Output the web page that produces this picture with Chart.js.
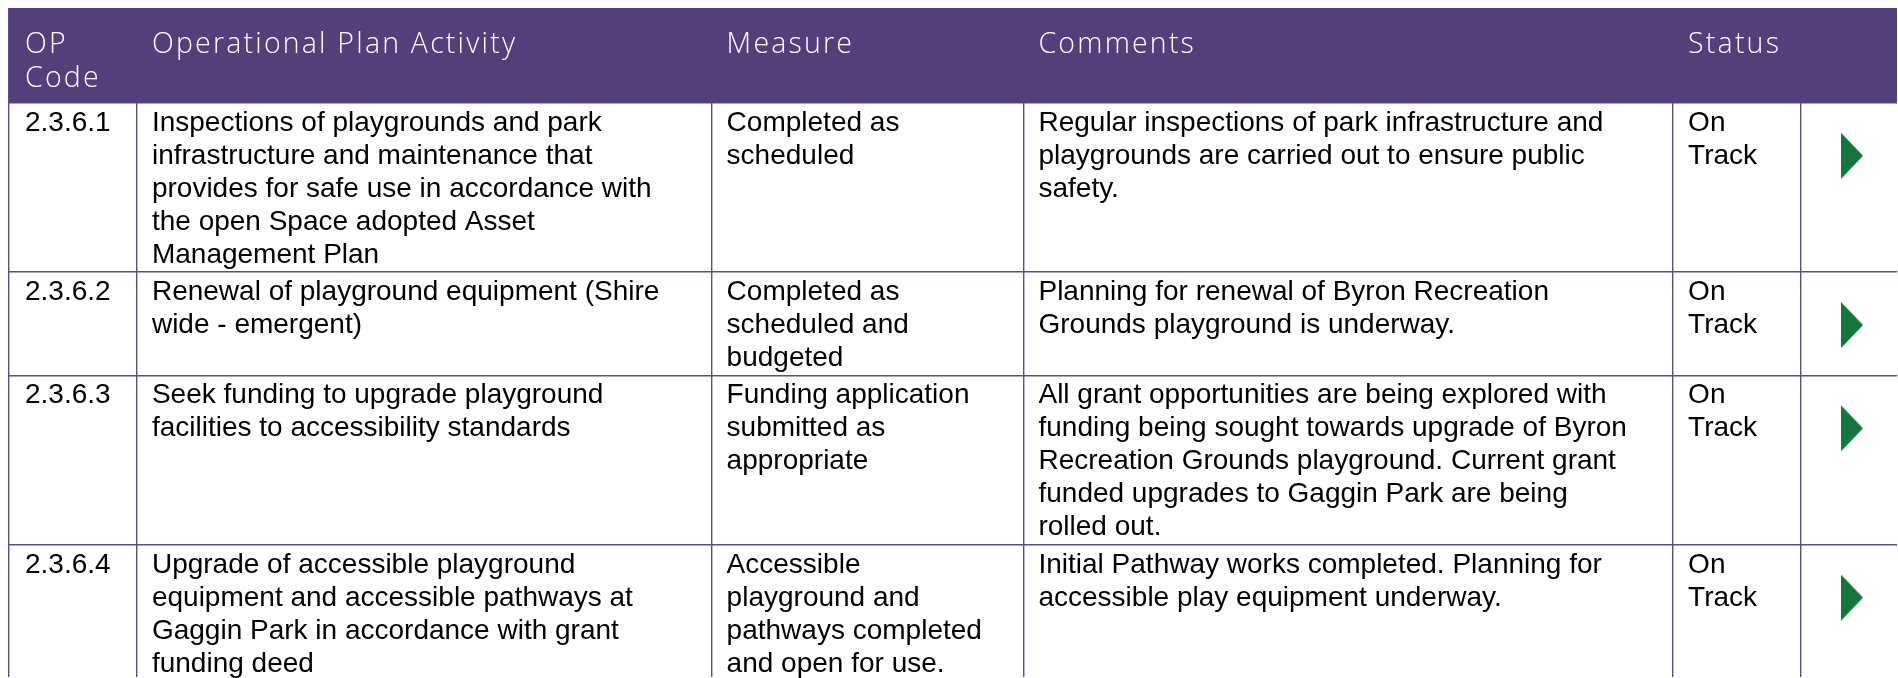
<!DOCTYPE html>
<html>
<head>
<meta charset="utf-8">
<title>Operational Plan - Playgrounds</title>
<script src="https://cdn.jsdelivr.net/npm/chart.js@4.4.1/dist/chart.umd.min.js"></script>
<style>
  html, body { margin: 0; padding: 0; background: #fff; }
  #wrap { position: relative; width: 1898px; height: 678px; }
</style>
</head>
<body>
<div id="wrap"><canvas id="op-table"></canvas></div>
<script>
// Table content
// ------------------------------
var headers = [["OP", "Code"], ["Operational Plan Activity"], ["Measure"], ["Comments"], ["Status"], []];

var codes = ["2.3.6.1", "2.3.6.2", "2.3.6.3", "2.3.6.4"];

var activities = [
    ["Inspections of playgrounds and park", "infrastructure and maintenance that", "provides for safe use in accordance with", "the open Space adopted Asset", "Management Plan"],
    ["Renewal of playground equipment (Shire", "wide - emergent)"],
    ["Seek funding to upgrade playground", "facilities to accessibility standards"],
    ["Upgrade of accessible playground", "equipment and accessible pathways at", "Gaggin Park in accordance with grant", "funding deed"]
];

var measures = [
    ["Completed as", "scheduled"],
    ["Completed as", "scheduled and", "budgeted"],
    ["Funding application", "submitted as", "appropriate"],
    ["Accessible", "playground and", "pathways completed", "and open for use."]
];

var comments = [
    ["Regular inspections of park infrastructure and", "playgrounds are carried out to ensure public", "safety."],
    ["Planning for renewal of Byron Recreation", "Grounds playground is underway."],
    ["All grant opportunities are being explored with", "funding being sought towards upgrade of Byron", "Recreation Grounds playground. Current grant", "funded upgrades to Gaggin Park are being", "rolled out."],
    ["Initial Pathway works completed. Planning for", "accessible play equipment underway."]
];

var statuses = [["On", "Track"], ["On", "Track"], ["On", "Track"], ["On", "Track"]];

// Layout (pixels)
// ------------------------------
var colWidths = [128, 575, 312, 650, 128, 96];
var headerHeight = 95;
var lineHeight = 33;
var rowPad = 4.5;
var cellPadX = 15;
var headerColour = "#543f7b";
var gridColour = "#5e4c8e";
var arrowColour = "#11773c";

// column edges and row edges, built from the content
var colEdges = [0];
colWidths.forEach(function (w) { colEdges.push(colEdges[colEdges.length - 1] + w); });

var columns = [codes.map(function (c) { return [c]; }), activities, measures, comments, statuses];
var rowEdges = [headerHeight];
codes.forEach(function (c, i) {
    var lines = Math.max.apply(null, columns.map(function (col) { return col[i].length; }));
    rowEdges.push(rowEdges[i] + lines * lineHeight + rowPad);
});

// green "on track" arrow used as the point style
function makeArrow(w, h, colour) {
    var cv = document.createElement("canvas");
    cv.width = w;
    cv.height = h;
    var g = cv.getContext("2d");
    g.fillStyle = colour;
    g.beginPath();
    g.moveTo(0, 0);
    g.lineTo(w, h / 2);
    g.lineTo(0, h);
    g.closePath();
    g.fill();
    return cv;
}

var arrowPoints = codes.map(function (c, i) {
    return { x: colEdges[5] + 51, y: rowEdges[i] + 53 };
});

// header fill and cell text
var tablePlugin = {
    id: "tableCells",
    beforeDatasetsDraw: function (chart) {
        var xs = chart.scales.x, ys = chart.scales.y, c = chart.ctx;
        var l = xs.getPixelForValue(xs.min), r = xs.getPixelForValue(xs.max);
        var t = ys.getPixelForValue(0), b = ys.getPixelForValue(headerHeight);
        c.save();
        c.fillStyle = headerColour;
        c.fillRect(l, t, r - l, b - t);
        c.restore();
    },
    afterDatasetsDraw: function (chart) {
        var xs = chart.scales.x, ys = chart.scales.y, c = chart.ctx;
        c.save();
        c.textBaseline = "alphabetic";
        c.textAlign = "left";

        // header
        c.fillStyle = "#ffffff";
        c.font = "300 28.5px 'Open Sans'";
        c.letterSpacing = "2.2px";
        headers.forEach(function (lines, k) {
            lines.forEach(function (txt, j) {
                c.fillText(txt, xs.getPixelForValue(colEdges[k] + cellPadX + (k === 0 ? 1 : 0)),
                    ys.getPixelForValue(45 + j * 34));
            });
        });
        c.letterSpacing = "0px";

        // body
        c.fillStyle = "#000000";
        c.font = "28px 'Liberation Sans', Arial, sans-serif";
        columns.forEach(function (col, k) {
            col.forEach(function (lines, i) {
                lines.forEach(function (txt, j) {
                    c.fillText(txt, xs.getPixelForValue(colEdges[k] + cellPadX + (k === 0 ? 1 : 0)),
                        ys.getPixelForValue(rowEdges[i] + 28 + j * lineHeight));
                });
            });
        });
        c.restore();
    }
};

var ctx = document.getElementById("op-table");

var config = {
    type: "scatter",
    data: {
        datasets: [{
            label: "Status",
            data: arrowPoints,
            pointStyle: makeArrow(22, 46, arrowColour),
            pointRadius: 1,
            pointHoverRadius: 1,
            pointBorderWidth: 0,
            clip: false
        }]
    },
    options: {
        responsive: true,
        maintainAspectRatio: false,
        animation: false,
        events: [],
        layout: { padding: { left: 9, top: 8, right: 0, bottom: 0 } },
        plugins: {
            legend: { display: false },
            tooltip: { enabled: false }
        },
        scales: {
            x: {
                type: "linear",
                min: 0,
                max: 1889,
                afterBuildTicks: function (scale) {
                    scale.ticks = colEdges.slice(0, 6).map(function (v) { return { value: v }; });
                },
                grid: { color: gridColour, lineWidth: 1.4, drawTicks: false },
                border: { display: false },
                ticks: { display: false }
            },
            y: {
                type: "linear",
                reverse: true,
                min: 0,
                max: 670,
                afterBuildTicks: function (scale) {
                    scale.ticks = rowEdges.filter(function (v) { return v < scale.max; })
                        .map(function (v) { return { value: v }; });
                },
                grid: { color: gridColour, lineWidth: 1.4, drawTicks: false },
                border: { display: false },
                ticks: { display: false }
            }
        }
    },
    plugins: [tablePlugin]
};

var opTable = new Chart(ctx, config);
</script>
</body>
</html>
